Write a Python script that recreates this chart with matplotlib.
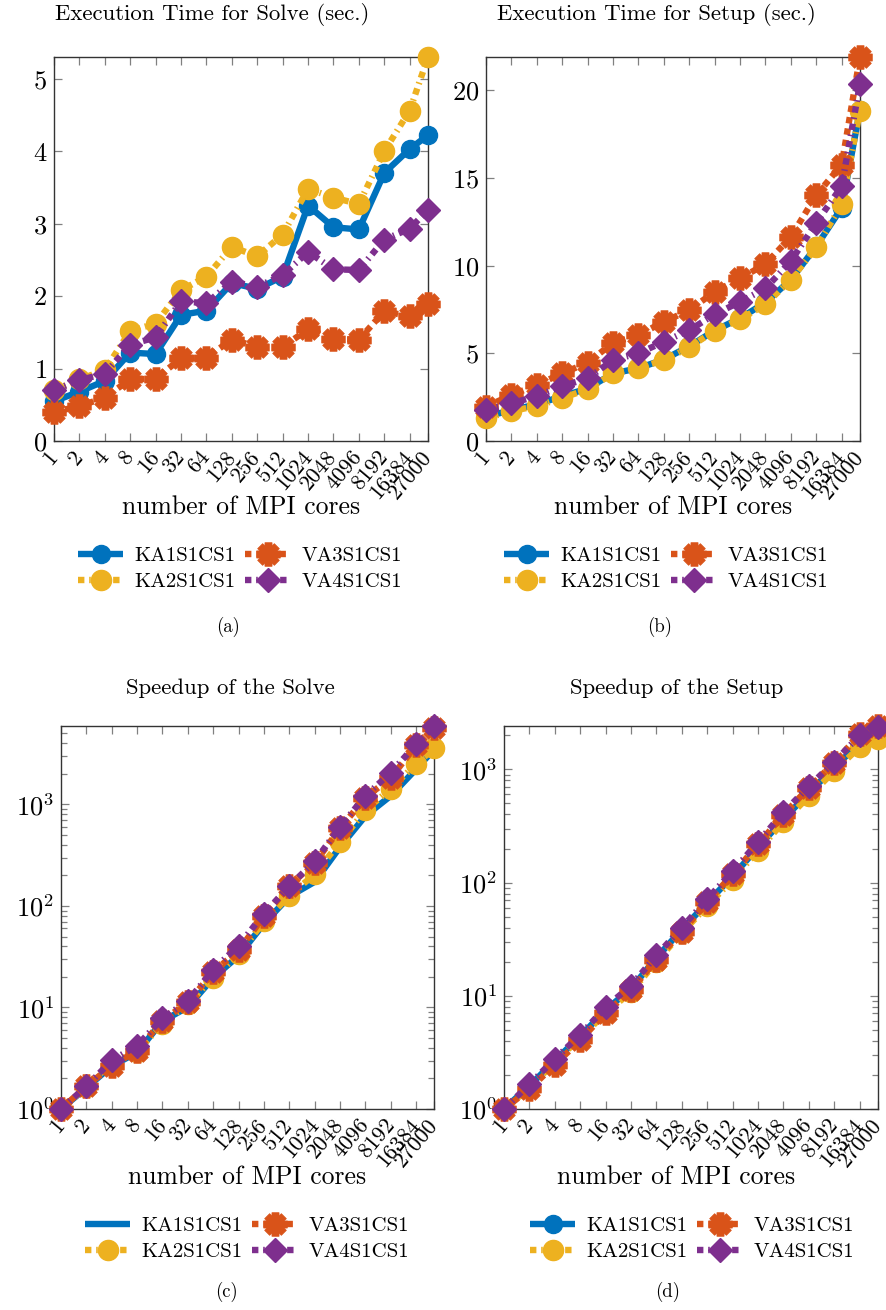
import matplotlib
matplotlib.use("Agg")
import matplotlib.pyplot as plt
import numpy as np
from matplotlib.path import Path
from matplotlib.ticker import FixedLocator, FixedFormatter, LogLocator, NullFormatter

plt.rcParams['font.family'] = 'serif'
plt.rcParams['font.serif'] = ['cmr10']
plt.rcParams['mathtext.fontset'] = 'cm'
plt.rcParams['axes.formatter.use_mathtext'] = True
plt.rcParams['axes.unicode_minus'] = False

# ---------------- data ----------------
cores = [1, 2, 4, 8, 16, 32, 64, 128, 256, 512, 1024, 2048, 4096, 8192, 16384, 27000]
core_labels = ["1", "2", "4", "8", "16", "32", "64", "128", "256", "512",
               "1024", "2048", "4096", "8192", "16384", "27000"]
series_names = ["KA1S1CS1", "KA2S1CS1", "VA3S1CS1", "VA4S1CS1"]

solve_KA1 = [0.55, 0.68, 0.83, 1.22, 1.20, 1.74, 1.80, 2.18, 2.10, 2.27, 3.25, 2.95, 2.92, 3.70, 4.03, 4.22]
solve_KA2 = [0.70, 0.85, 0.98, 1.52, 1.62, 2.08, 2.27, 2.68, 2.55, 2.85, 3.48, 3.36, 3.27, 4.00, 4.56, 5.30]
solve_VA3 = [0.40, 0.48, 0.60, 0.85, 0.86, 1.14, 1.15, 1.40, 1.30, 1.30, 1.54, 1.41, 1.40, 1.79, 1.72, 1.89]
solve_VA4 = [0.70, 0.84, 0.93, 1.33, 1.43, 1.93, 1.90, 2.20, 2.13, 2.29, 2.61, 2.37, 2.36, 2.78, 2.93, 3.19]

setup_KA1 = [1.40, 1.75, 2.10, 2.55, 3.00, 3.85, 4.15, 4.65, 5.40, 6.30, 7.00, 7.90, 9.20, 11.10, 13.30, 18.90]
setup_KA2 = [1.30, 1.70, 2.00, 2.45, 2.95, 3.85, 4.15, 4.62, 5.34, 6.29, 6.93, 7.79, 9.21, 11.04, 13.49, 18.82]
setup_VA3 = [1.96, 2.62, 3.19, 3.86, 4.46, 5.60, 6.04, 6.80, 7.46, 8.51, 9.27, 10.09, 11.64, 14.02, 15.76, 21.90]
setup_VA4 = [1.77, 2.15, 2.56, 3.13, 3.57, 4.62, 5.00, 5.66, 6.32, 7.22, 7.94, 8.70, 10.26, 12.44, 14.53, 20.38]

speedup_solve_KA1 = [1, 1.62, 2.65, 3.61, 7.33, 10.1, 19.6, 32.3, 67.0, 124, 173, 382, 772, 1218, 2236, 3519]
speedup_solve_KA2 = [1, 1.65, 2.86, 3.68, 6.91, 10.8, 19.7, 33.4, 70.3, 126, 206, 427, 877, 1434, 2515, 3566]
speedup_solve_VA3 = [1, 1.67, 2.67, 3.76, 7.44, 11.2, 22.3, 36.6, 78.8, 158, 266, 581, 1170, 1831, 3810, 5714]
speedup_solve_VA4 = [1, 1.67, 3.01, 4.21, 7.83, 11.6, 23.6, 40.7, 84.1, 157, 275, 605, 1215, 2063, 3914, 5925]

speedup_setup_KA1 = [1, 1.60, 2.67, 4.39, 7.47, 11.6, 21.6, 38.5, 66.4, 114, 205, 363, 623, 1033, 1725, 2000]
speedup_setup_KA2 = [1, 1.53, 2.60, 4.24, 7.05, 10.8, 20.0, 36.0, 62.3, 106, 192, 342, 578, 965, 1579, 1865]
speedup_setup_VA3 = [1, 1.50, 2.46, 4.06, 7.03, 11.2, 20.8, 36.9, 67.3, 118, 217, 398, 690, 1145, 2038, 2416]
speedup_setup_VA4 = [1, 1.65, 2.77, 4.52, 7.93, 12.3, 22.7, 40.0, 71.7, 126, 228, 417, 707, 1166, 1996, 2345]


# ---------------- marker: thick 8-arm asterisk outline ----------------
def asterisk_path(arms=8, w=0.3):
    verts = []
    step = 2 * np.pi / arms
    rn = w / np.sin(step / 2)
    for k in range(arms):
        th = k * step
        u = np.array([np.cos(th), np.sin(th)])
        v = np.array([-np.sin(th), np.cos(th)])
        verts.append(u - v * w)
        verts.append(u + v * w)
        tn = th + step / 2
        verts.append(np.array([np.cos(tn), np.sin(tn)]) * rn)
    verts.append(verts[0])
    codes = [Path.MOVETO] + [Path.LINETO] * (len(verts) - 2) + [Path.CLOSEPOLY]
    return Path(np.array(verts), codes)


AST = asterisk_path()

# ---------------- styles ----------------
C_BLUE = '#0072BD'
C_YEL = '#EDB120'
C_ORA = '#D95319'
C_PUR = '#7E2F8E'
LW = 4.6
DASHDOT = (0, (1.0, 0.75, 0.25, 0.75))
DOTTED = (0, (1.0, 0.8))

styles = [
    dict(color=C_BLUE, lw=LW, ls='-', marker='o', ms=13, mec=C_BLUE, mfc=C_BLUE),
    dict(color=C_YEL, lw=LW, ls=DASHDOT, marker='o', ms=14.5, mec=C_YEL, mfc=C_YEL),
    dict(color=C_ORA, lw=LW, ls=DOTTED, marker=AST, ms=17, mec=C_ORA, mfc=C_ORA, mew=0.5),
    dict(color=C_PUR, lw=LW, ls=DASHDOT, marker='D', ms=12, mec=C_PUR, mfc=C_PUR),
]

W, H = 887, 1310
fig = plt.figure(figsize=(W / 100, H / 100), dpi=100)


def add_ax(left, top, right, bottom):
    return fig.add_axes([left / W, 1 - bottom / H, (right - left) / W, (bottom - top) / H])


YTICKFS = 19
XTICKFS = 16
SPINE = '#333333'
TICKC = '#808080'


def style_axis(ax, log=False):
    ax.set_xscale('log', base=2)
    ax.set_xlim(cores[0], cores[-1])
    ax.xaxis.set_major_locator(FixedLocator(cores))
    ax.xaxis.set_major_formatter(FixedFormatter(core_labels))
    ax.xaxis.set_minor_locator(FixedLocator([]))
    for s in ax.spines.values():
        s.set_color(SPINE)
        s.set_linewidth(1.0)
    ax.tick_params(which='both', direction='in', top=True, right=True, color=TICKC, width=0.9)
    ax.tick_params(axis='y', labelsize=YTICKFS, pad=5)
    ax.tick_params(axis='x', labelsize=XTICKFS, pad=9)
    ax.tick_params(which='major', length=6)
    ax.tick_params(which='minor', length=4)
    for lab in ax.get_xticklabels():
        lab.set_rotation(50)
        lab.set_ha('right')
        lab.set_va('center')
        lab.set_rotation_mode('anchor')
    if log:
        ax.set_yscale('log')
        ax.yaxis.set_major_locator(LogLocator(base=10, numticks=10))
        ax.yaxis.set_minor_locator(LogLocator(base=10, subs=np.arange(2, 10), numticks=20))
        ax.yaxis.set_minor_formatter(NullFormatter())


def plot_series(ax, data, nomarker_first=False):
    handles = []
    for i, (d, st) in enumerate(zip(data, styles)):
        st = dict(st)
        if nomarker_first and i == 0:
            st['marker'] = None
        h, = ax.plot(cores, d, label=series_names[i], clip_on=False,
                     dash_capstyle='butt', solid_capstyle='butt', zorder=3 + i, **st)
        handles.append(h)
    return handles


LEGFS = 15


def add_legend(ax, handles, cx, cy):
    fig.legend(handles=handles, labels=series_names, ncol=2, loc='center',
               bbox_to_anchor=(cx / W, 1 - cy / H), bbox_transform=fig.transFigure,
               frameon=False, fontsize=LEGFS, handlelength=2.2, handletextpad=0.5,
               columnspacing=0.5, labelspacing=0.35, numpoints=1, borderpad=0)


TITLEFS = 16.4
XLFS = 18.5
CAPFS = 13.5

# (a)
axa = add_ax(54, 57, 428, 441)
style_axis(axa)
ha = plot_series(axa, [solve_KA1, solve_KA2, solve_VA3, solve_VA4])
axa.set_ylim(0, 5.3)
axa.set_yticks([0, 1, 2, 3, 4, 5])
fig.text(212 / W, 1 - 15 / H, "Execution Time for Solve (sec.)", ha='center', va='center', fontsize=TITLEFS)
fig.text(241 / W, 1 - 507 / H, "number of MPI cores", ha='center', va='center', fontsize=XLFS)
add_legend(axa, ha, 240, 569)
fig.text(228 / W, 1 - 627 / H, "(a)", ha='center', va='center', fontsize=CAPFS)

# (b)
axb = add_ax(486, 57, 860, 441)
style_axis(axb)
hb = plot_series(axb, [setup_KA1, setup_KA2, setup_VA3, setup_VA4])
axb.set_ylim(0, 21.9)
axb.set_yticks([0, 5, 10, 15, 20])
fig.text(656 / W, 1 - 15 / H, "Execution Time for Setup (sec.)", ha='center', va='center', fontsize=TITLEFS)
fig.text(673 / W, 1 - 507 / H, "number of MPI cores", ha='center', va='center', fontsize=XLFS)
add_legend(axb, hb, 666, 569)
fig.text(660 / W, 1 - 627 / H, "(b)", ha='center', va='center', fontsize=CAPFS)

# (c)
axc = add_ax(61, 726, 434.5, 1109)
style_axis(axc, log=True)
hc = plot_series(axc, [speedup_solve_KA1, speedup_solve_KA2, speedup_solve_VA3, speedup_solve_VA4],
                 nomarker_first=True)
axc.set_ylim(1, 5925)
fig.text(230 / W, 1 - 688 / H, "Speedup of the Solve", ha='center', va='center', fontsize=TITLEFS)
fig.text(247 / W, 1 - 1177 / H, "number of MPI cores", ha='center', va='center', fontsize=XLFS)
add_legend(axc, hc, 247, 1239)
fig.text(227 / W, 1 - 1292 / H, "(c)", ha='center', va='center', fontsize=CAPFS)

# (d)
axd = add_ax(504, 726, 878, 1109)
style_axis(axd, log=True)
hd = plot_series(axd, [speedup_setup_KA1, speedup_setup_KA2, speedup_setup_VA3, speedup_setup_VA4])
axd.set_ylim(1, 2416)
fig.text(677 / W, 1 - 688 / H, "Speedup of the Setup", ha='center', va='center', fontsize=TITLEFS)
fig.text(676 / W, 1 - 1177 / H, "number of MPI cores", ha='center', va='center', fontsize=XLFS)
add_legend(axd, hd, 692, 1239)
fig.text(668 / W, 1 - 1292 / H, "(d)", ha='center', va='center', fontsize=CAPFS)

fig.savefig("out.png", dpi=100)
